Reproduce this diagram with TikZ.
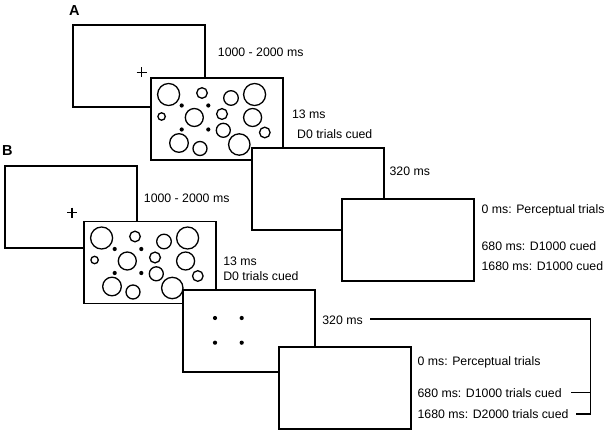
\documentclass[tikz,border=0pt]{standalone}
\usepackage{fontspec}
\setmainfont{Liberation Sans}
\usetikzlibrary{calc}
\tikzstyle{screen}=[rectangle,draw=black,fill=white,line width=1.3pt,minimum width=132pt,minimum height=82pt,inner sep=0pt,outer sep=0pt,anchor=north west]
\tikzstyle{timing}=[inner sep=0pt,anchor=base west,font=\fontsize{12.3}{14}\selectfont]
\tikzstyle{panel}=[inner sep=0pt,anchor=base west,font=\fontsize{14.5}{16}\selectfont\bfseries]
\tikzstyle{disk}=[line width=1.3pt]

\begin{document}
\begin{tikzpicture}[x=1pt,y=-1pt,line width=1.3pt]
    \useasboundingbox (0,0) rectangle (604,430);
    % screens
    \foreach \n/\x/\y in {a1/73/25, a2/151/78, a3/252/148, a4/342/199, b1/5/166, b2/84/221.5, b3/183/290, b4/279/347} {
        \node[screen] (\n) at (\x,\y) {};
    };

    % fixation crosses
    \coordinate (fxa) at (141.7,72.3);
    \coordinate (fxb) at (72,212.7);
    \foreach \f in {fxa,fxb} {
        \draw (\f) +(-5,0) -- +(5,0);
        \draw (\f) +(0,-5) -- +(0,5);
    };

    % stimulus displays
    \foreach \s in {a2,b2} {
        \foreach \cx/\cy/\r in {17.6/16.5/11, 51/15/5.3, 80/20/7.3, 103.6/16.5/11,
                                10.6/38.5/3.7, 43.3/39.5/9, 71/36/5.4, 101.6/39.5/9,
                                72.3/52.3/7, 113.8/54.5/5.3, 28/65/9.3, 49/70.5/7, 88.3/66.5/10.7} {
            \draw[disk] ($(\s.north west)+(\cx,\cy)$) circle (\r pt);
        };
        \foreach \cx/\cy in {30.7/27.5, 57.3/27.5, 30.7/51.5, 57.3/51.5} {
            \fill ($(\s.north west)+(\cx,\cy)$) circle (2.1pt);
        };
    };

    % placeholders
    \foreach \cx/\cy in {32/28, 58.7/28, 32/52.7, 58.7/52.7} {
        \fill ($(b3.north west)+(\cx,\cy)$) circle (2.1pt);
    };

    \node[panel] (pa) at (68.5,15.5) {A};
    \node[panel] (pb) at (1.5,155.5) {B};

    \node[timing] (fa) at (217.3,56.1) {1000 - 2000 ms};
    \node[timing] (sa) at (291.5,118.7) {13 ms};
    \node[timing] (ca) at (296.5,138.4) {D0 trials cued};
    \node[timing] (ia) at (389,176) {320 ms};
    \node[timing] (pa0) at (481,213.5) {0 ms: Perceptual trials};
    \node[timing] (da1) at (481,250.4) {680 ms: D1000 cued};
    \node[timing] (da2) at (481,270.4) {1680 ms: D1000 cued};

    \node[timing] (fb) at (143.3,202.7) {1000 - 2000 ms};
    \node[timing] (sb) at (222.7,265) {13 ms};
    \node[timing] (cb) at (222.7,280.4) {D0 trials cued};
    \node[timing] (ib) at (321.7,324.4) {320 ms};
    \node[timing] (pb0) at (417,365) {0 ms: Perceptual trials};
    \node[timing] (db1) at (417,397) {680 ms: D1000 trials cued};
    \node[timing] (db2) at (417,418.4) {1680 ms: D2000 trials cued};

    % bracket
    \coordinate (bt) at (590.7,319);
    \coordinate (bb) at (590.7,414);
    \draw ($(ib.east |- bt)+(7,0)$) -- (bt) -- (bb);
    \draw ($(db1.east)+(9,0)$) -- (db1.east -| bt);
    \draw ($(db2.east)+(7,0)$) -- (db2.east -| bt);
\end{tikzpicture}
\end{document}
